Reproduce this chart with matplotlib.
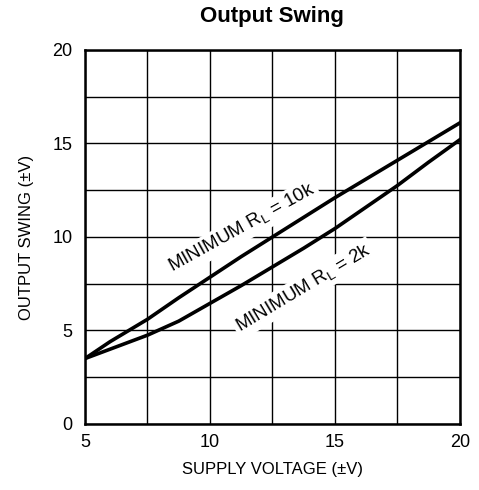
import matplotlib.pyplot as plt

plt.rcParams['font.family'] = ['Liberation Sans', 'DejaVu Sans']

# supply voltage (+/-V)
supply = [5, 6, 7.5, 8.75, 10, 11.25, 12.5, 13.75, 15, 16.25, 17.5, 18.75, 20]
# output swing (+/-V)
swing_10k = [3.5, 4.4, 5.6, 6.75, 7.85, 8.95, 10.0, 11.05, 12.1, 13.1, 14.1, 15.1, 16.1]
swing_2k = [3.5, 4.0, 4.75, 5.5, 6.45, 7.4, 8.4, 9.4, 10.45, 11.6, 12.75, 14.0, 15.2]

fig = plt.figure(figsize=(4.79, 4.9), dpi=100)
ax = fig.add_axes([0.1775, 0.1347, 0.7825, 0.7633])

ax.plot(supply, swing_10k, color='black', lw=2.6, zorder=4)
ax.plot(supply, swing_2k, color='black', lw=2.6, zorder=4)

ax.set_xlim(5, 20)
ax.set_ylim(0, 20)
ax.set_xticks([5, 10, 15, 20])
ax.set_yticks([0, 5, 10, 15, 20])
ax.set_xticks([7.5, 12.5, 17.5], minor=True)
ax.set_yticks([2.5, 7.5, 12.5, 17.5], minor=True)
ax.grid(True, which='both', color='black', lw=1.0)
ax.set_axisbelow(True)
ax.tick_params(which='both', length=0, labelsize=13)
ax.tick_params(axis='x', pad=7)
ax.tick_params(axis='y', pad=9)
for s in ax.spines.values():
    s.set_linewidth(1.8)

bb = dict(facecolor='white', edgecolor='none', pad=2)
ax.text(11.3, 10.45, 'MINIMUM R$_\\mathregular{L}$ = 10k', rotation=29, fontsize=13.5,
        ha='center', va='center', rotation_mode='anchor', bbox=bb, zorder=3)
ax.text(13.75, 7.25, 'MINIMUM R$_\\mathregular{L}$ = 2k', rotation=31, fontsize=13.5,
        ha='center', va='center', rotation_mode='anchor', bbox=bb, zorder=3)

ax.set_xlabel('SUPPLY VOLTAGE (±V)', fontsize=12, labelpad=8)
ax.set_ylabel('OUTPUT SWING (±V)', fontsize=12, labelpad=13)
ax.set_title('Output Swing', fontsize=16, fontweight='bold', pad=20)

fig.savefig('out.png', dpi=100)
